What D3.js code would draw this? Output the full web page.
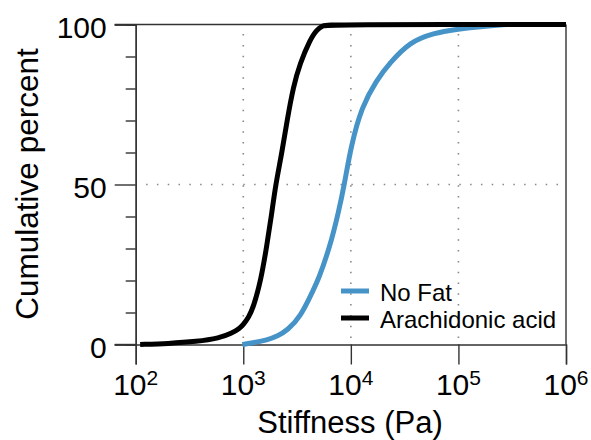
<!DOCTYPE html>
<html>
<head>
<meta charset="utf-8">
<script src="https://cdn.jsdelivr.net/npm/d3@7"></script>
<style>
  body { margin: 0; background: #fff; }
  svg { font-family: "Liberation Sans", Arial, Helvetica, sans-serif; }
</style>
</head>
<body>
<div id="graf"></div>
<script>
// I. Datos
noFatPa  = [980, 1260, 1660, 2090, 2570, 3390, 4470, 4980, 6400, 7640, 8710, 10000, 12600, 17400, 22900, 35500, 58900, 95500, 158000, 282000]
noFatPct = [0, 0.6, 1.4, 2.6, 4.5, 8.5, 17, 20.2, 30.6, 41, 50, 61.8, 74.3, 82.7, 87.9, 94.6, 97.3, 98.5, 99.3, 100]

araPa  = [110, 200, 370, 600, 780, 920, 1000, 1120, 1240, 1460, 1650, 1840, 2000, 2280, 2560, 2920, 3370, 4170, 4790, 5500, 6300, 1000000]
araPct = [0, 0.3, 0.9, 2, 3.5, 5, 6.2, 8.5, 11.5, 20.2, 30.6, 41, 50, 59.7, 70.2, 80.6, 87.9, 95.2, 98.3, 99.7, 100, 100]

xTicks = [1e2, 1e3, 1e4, 1e5, 1e6]
yMajor = [0, 50, 100]
yMinor = [10, 20, 30, 40, 60, 70, 80, 90]
series = ['No Fat', 'Arachidonic acid']
colores = ['#4693c8', '#000000']

// II. Configuración
ancho_total = 591
alto_total = 440

svg = d3.select('#graf').append('svg')
        .attr('width', ancho_total)
        .attr('height', alto_total)

x = d3.scaleLog().domain([1e2, 1e6]).range([135.7, 566])
y = d3.scaleLinear().domain([0, 100]).range([344.5, 24.5])

// rejilla punteada
grid = svg.append('g')
grid.selectAll('line.v')
    .data([1e3, 1e4, 1e5])
    .enter().append('line')
    .attr('x1', d => x(d)).attr('x2', d => x(d))
    .attr('y1', y(97)).attr('y2', y(2))
    .attr('stroke', '#888')
    .attr('stroke-width', 1.6)
    .attr('stroke-dasharray', '1.5 9.3')
grid.append('line')
    .attr('x1', x(1.25e2)).attr('x2', x(9e5))
    .attr('y1', y(50)).attr('y2', y(50))
    .attr('stroke', '#888')
    .attr('stroke-width', 1.6)
    .attr('stroke-dasharray', '1.5 9.3')

// marco
svg.append('line')
   .attr('x1', x(1e2) - 21).attr('x2', x(1e6))
   .attr('y1', y(100)).attr('y2', y(100))
   .attr('stroke', '#333').attr('stroke-width', 1.4)
svg.append('line')
   .attr('x1', x(1e6)).attr('x2', x(1e6))
   .attr('y1', y(100)).attr('y2', y(0))
   .attr('stroke', '#333').attr('stroke-width', 1.4)

// III. Ejes
yMinorCall = d3.axisLeft(y).tickValues(yMinor).tickSize(10).tickFormat('')
yMinorGroup = svg.append('g')
    .attr('transform', `translate(${x(1e2)}, 0)`)
    .call(yMinorCall)

yAxisCall = d3.axisLeft(y).tickValues(yMajor).tickSize(21).tickPadding(8)
yAxisGroup = svg.append('g')
    .attr('transform', `translate(${x(1e2)}, 0)`)
    .call(yAxisCall)
yAxisGroup.selectAll('text')
    .attr('dy', '0.44em')
    .style('font-size', '30px')
    .attr('fill', '#000')

xAxisCall = d3.axisBottom(x).tickValues(xTicks).tickSize(20).tickFormat('')
xAxisGroup = svg.append('g')
    .attr('transform', `translate(0, ${y(0)})`)
    .call(xAxisCall)

// el dominio del eje x se extiende hasta el tick del 0
svg.append('line')
   .attr('x1', x(1e2) - 21).attr('x2', x(1e2))
   .attr('y1', y(0)).attr('y2', y(0))
   .attr('stroke', '#333').attr('stroke-width', 1.4)

;[yMinorGroup, yAxisGroup, xAxisGroup].forEach(gr => {
  gr.selectAll('path.domain').attr('stroke', '#333').attr('stroke-width', 1.4)
  gr.selectAll('line').attr('stroke', '#333').attr('stroke-width', 1.4)
})

// etiquetas 10^n
xLabels = svg.append('g').selectAll('text')
    .data(xTicks)
    .enter().append('text')
    .attr('x', d => x(d))
    .attr('y', 395)
    .attr('text-anchor', 'middle')
    .style('font-size', '30px')
xLabels.append('tspan').text('10')
xLabels.append('tspan')
    .attr('dy', '-10')
    .style('font-size', '21px')
    .text(d => Math.round(Math.log10(d)))

svg.append('text')
   .attr('x', 350)
   .attr('y', 433)
   .attr('text-anchor', 'middle')
   .style('font-size', '31px')
   .text('Stiffness (Pa)')

svg.append('text')
   .attr('transform', 'translate(38, 184) rotate(-90)')
   .attr('text-anchor', 'middle')
   .style('font-size', '31.5px')
   .text('Cumulative percent')

// IV. Curvas
linea = d3.line()
    .x(d => x(d[0]))
    .y(d => y(d[1]))
    .curve(d3.curveBasis)

datos = [
  d3.zip(noFatPa, noFatPct),
  d3.zip(araPa, araPct)
]

svg.append('g').selectAll('path')
   .data(datos)
   .enter().append('path')
   .attr('d', linea)
   .attr('fill', 'none')
   .attr('stroke', (d, i) => colores[i])
   .attr('stroke-width', 5)
   .attr('stroke-linejoin', 'round')

// V. Leyenda
leyenda = svg.append('g').selectAll('g')
    .data(series)
    .enter().append('g')
    .attr('transform', (d, i) => `translate(341, ${291 + i * 27})`)
leyenda.append('line')
    .attr('x1', 0).attr('x2', 28)
    .attr('stroke', (d, i) => colores[i])
    .attr('stroke-width', 5)
leyenda.append('text')
    .attr('x', 39)
    .attr('y', 10)
    .style('font-size', '24px')
    .text(d => d)
</script>
</body>
</html>
